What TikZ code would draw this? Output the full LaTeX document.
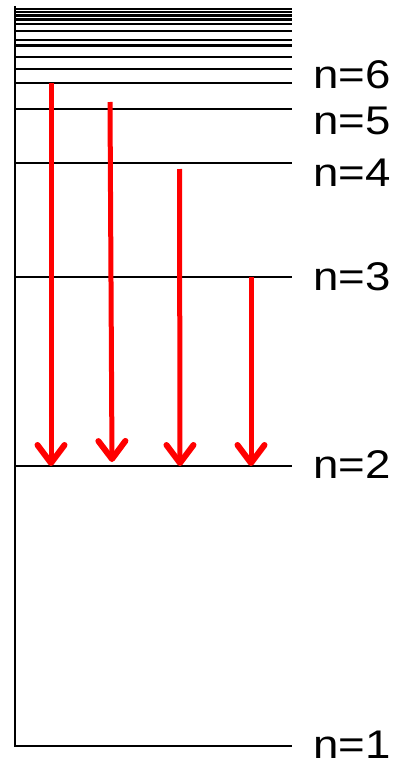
\documentclass[tikz,border=0pt]{standalone}
\usepackage{fontspec}
\setmainfont{Liberation Sans}
\usetikzlibrary{arrows.meta}

\newcommand{\wlabel}[1]{\scalebox{1.14}[1]{#1}}

\begin{document}
\begin{tikzpicture}[x=1pt, y=-1pt,
    level/.style={line width=2.4pt},
    jump/.style={red, line width=5pt,
      -{Straight Barb[length=18pt, width=27pt, line width=6pt, round]}},
    lbl/.style={anchor=west, inner sep=0pt, font=\fontsize{40}{40}\selectfont}]
  \useasboundingbox (0,0) rectangle (394,768);

  % axis and ground state
  \draw[level] (15,6) -- (15,746) -- (292,746);

  % named levels
  \draw[level] (15,466) -- (292,466);
  \draw[level] (15,277) -- (292,277);
  \draw[level] (15,163) -- (292,163);
  \draw[level] (15,109) -- (292,109);
  \draw[level] (15,83) -- (292,83);

  % levels crowding towards the limit
  \foreach \y in {69,57,45.5,40,31,24,19.5,15.5,12,9}
    \draw[level] (15,\y) -- (292,\y);

  \node[lbl] (n6) at (313,75) {\wlabel{n=6}};
  \node[lbl] (n5) at (313,121) {\wlabel{n=5}};
  \node[lbl] (n4) at (313,173) {\wlabel{n=4}};
  \node[lbl] (n3) at (313,277) {\wlabel{n=3}};
  \node[lbl] (n2) at (313,465) {\wlabel{n=2}};
  \node[lbl] (n1) at (313,745) {\wlabel{n=1}};

  % Balmer transitions
  \coordinate (s6) at (51,83);
  \coordinate (e6) at (51,466);
  \coordinate (s5) at (110,102);
  \coordinate (e5) at (112,462);
  \coordinate (s4) at (179.5,169);
  \coordinate (e4) at (180,466);
  \coordinate (s3) at (251,277);
  \coordinate (e3) at (251,466);

  \draw[jump] (s6) -- (e6);
  \draw[jump] (s5) -- (e5);
  \draw[jump] (s4) -- (e4);
  \draw[jump] (s3) -- (e3);
\end{tikzpicture}
\end{document}
